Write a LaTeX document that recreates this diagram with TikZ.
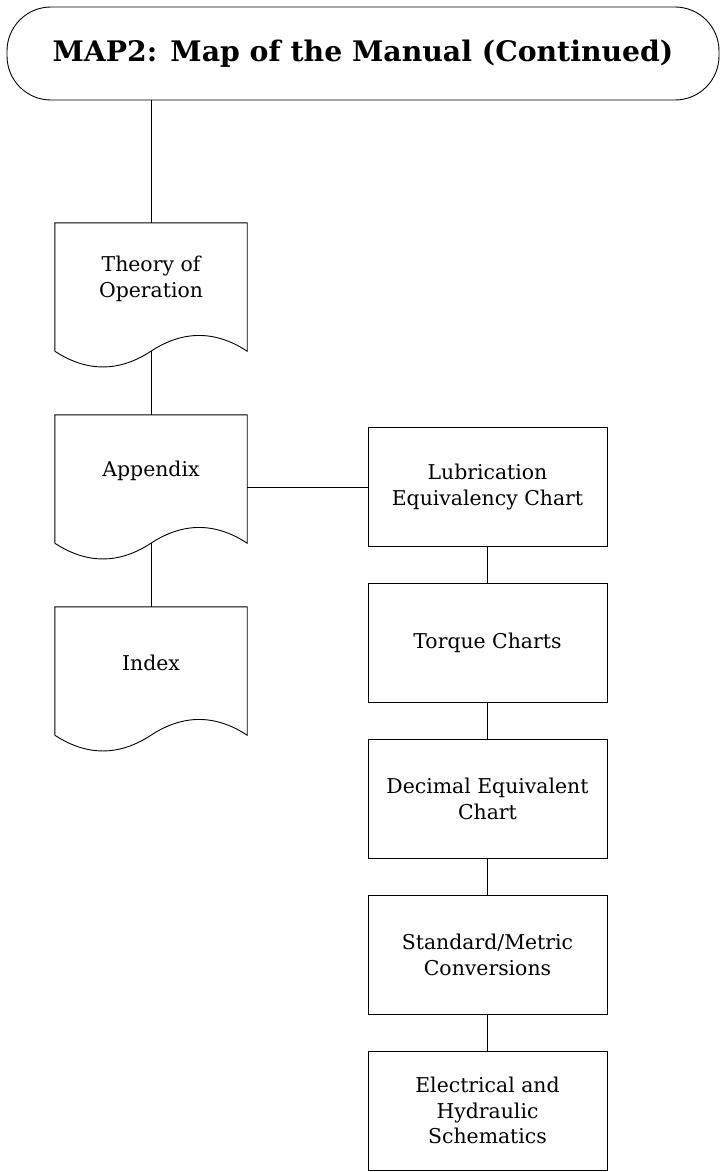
\documentclass[tikz,border=0pt]{standalone}
\usepackage{fontspec}
\setmainfont{DejaVu Serif}
\usetikzlibrary{calc}
\tikzset{
  conn/.style={draw=black, line width=0.9pt},
  titlebox/.style={draw=black, line width=0.9pt, rounded corners=44pt, minimum width=712pt, minimum height=93pt, inner sep=0pt, font=\fontsize{28.3}{32}\selectfont\bfseries},
  docarea/.style={minimum width=192pt, minimum height=128pt, inner sep=0pt},
  doctext/.style={align=center, font=\fontsize{20.4}{25.5}\selectfont},
  chartbox/.style={draw=black, line width=0.9pt, minimum width=239pt, minimum height=119pt, inner sep=0pt, align=center, font=\fontsize{20.4}{25.5}\selectfont},
  docline/.style={draw=black, line width=0.9pt}
}
\newcommand{\docshape}[1]{%
  \draw[docline] (#1.south west) -- (#1.north west) -- (#1.north east) -- (#1.south east)
    .. controls ($(#1.south east)+(-32pt,21pt)$) and ($(#1.south)+(32pt,21pt)$) .. (#1.south)
    .. controls ($(#1.south)+(-32pt,-21pt)$) and ($(#1.south west)+(32pt,-21pt)$) .. (#1.south west);}
\begin{document}
\begin{tikzpicture}[x=1pt,y=-1pt]
\useasboundingbox (0,0) rectangle (723,1172);
\fill[white] (0,0) rectangle (723,1172);
\node[titlebox] (title) at (363,53.5) {MAP2: Map of the Manual (Continued)};

\node[docarea] (theory) at (151,287) {};
\node[doctext] (theorytxt) at (151,279) {Theory of\\Operation};
\node[docarea] (appendix) at (151,479) {};
\node[doctext] (appendixtxt) at (151,471) {Appendix};
\node[docarea] (index) at (151,671) {};
\node[doctext] (indextxt) at (151,663) {Index};
\docshape{theory}
\docshape{appendix}
\docshape{index}

\node[chartbox] (lub) at (487.5,487) {Lubrication\\Equivalency Chart};
\node[chartbox] (torque) at (487.5,643) {Torque Charts};
\node[chartbox] (decimal) at (487.5,799) {Decimal Equivalent\\Chart};
\node[chartbox] (std) at (487.5,955) {Standard/Metric\\Conversions};
\node[chartbox] (elec) at (487.5,1110.5) {Electrical and\\Hydraulic\\Schematics};

\draw[conn] (title.south -| theory.north) -- (theory.north);
\draw[conn] (theory.south) -- (appendix.north);
\draw[conn] (appendix.south) -- (index.north);
\draw[conn] (lub.west -| appendix.east) -- (lub.west);
\draw[conn] (lub.south) -- (torque.north);
\draw[conn] (torque.south) -- (decimal.north);
\draw[conn] (decimal.south) -- (std.north);
\draw[conn] (std.south) -- (elec.north);
\end{tikzpicture}
\end{document}
